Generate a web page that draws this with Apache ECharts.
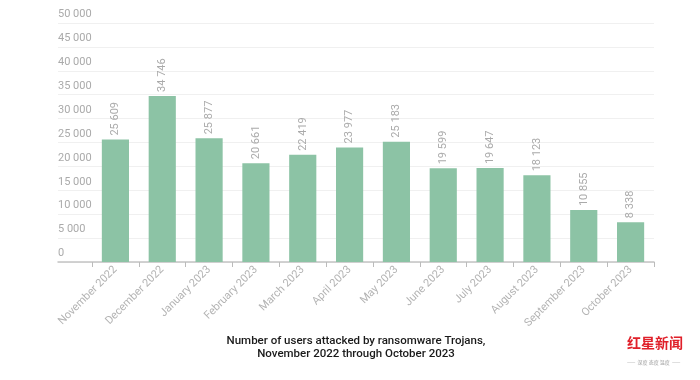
<!DOCTYPE html>
<html><head><meta charset="utf-8">
<script src="https://cdn.jsdelivr.net/npm/echarts@6/dist/echarts.min.js"></script>
<style>html,body{margin:0;padding:0;background:#fff}#c{width:700px;height:380px}</style>
</head><body><div id="c"></div>
<script>
const categories = ['November 2022','December 2022','January 2023','February 2023','March 2023','April 2023','May 2023','June 2023','July 2023','August 2023','September 2023','October 2023'];
const users = [25609, 34746, 25877, 20661, 22419, 23977, 25183, 19599, 19647, 18123, 10855, 8338];
const yTicks = [0, 5000, 10000, 15000, 20000, 25000, 30000, 35000, 40000, 45000, 50000];
const titleLines = ['Number of users attacked by ransomware Trojans,', 'November 2022 through October 2023'];

function fmt(v){ return String(v).replace(/\B(?=(\d{3})+(?!\d))/g, ' '); }

const chart = echarts.init(document.getElementById('c'));
const gray = '#aaaaaa';
chart.setOption({
  animation:false,
  grid:[
    {left:92, right:46, top:23, bottom:118},
    {left:58, right:46, top:23, bottom:118}
  ],
  xAxis:[
    {type:'category', gridIndex:0, data:categories,
     axisLine:{show:false}, axisTick:{show:true, length:5, lineStyle:{color:'#bbb'}},
     axisLabel:{rotate:45, color:'#b3b3b3', fontFamily:'Roboto', fontSize:11, margin:6, interval:0}},
    {type:'value', gridIndex:1, min:0, max:1, show:true,
     axisLine:{show:true, lineStyle:{color:'#c4c4c4', width:1.5}}, axisTick:{show:false}, axisLabel:{show:false}, splitLine:{show:false}}
  ],
  yAxis:[
    {type:'value', gridIndex:0, min:0, max:50000, interval:5000,
     axisLine:{show:false}, axisTick:{show:false}, splitLine:{show:false},
     axisLabel:{align:'left', margin:34, verticalAlign:'bottom', padding:[0,0,3,0], color:gray, fontFamily:'Roboto', fontSize:11,
       formatter:v=> yTicks.includes(v) ? fmt(v) : ''}},
    {type:'value', gridIndex:1, min:0, max:50000, interval:5000,
     axisLine:{show:false}, axisTick:{show:false}, axisLabel:{show:false},
     splitLine:{show:true, lineStyle:{color:'#f0f0f0'}}}
  ],
  series:[{
    type:'bar', xAxisIndex:0, yAxisIndex:0, data:users, barWidth:'58%',
    itemStyle:{color:'#8cc3a5'},
    label:{show:true, position:'top', rotate:90, align:'left', verticalAlign:'middle', distance:4,
      color:gray, fontFamily:'Roboto', fontSize:11, formatter:p=>fmt(p.value)}
  }],
  graphic:[
    {type:'text', x:356, y:335, style:{text:titleLines.join('\n'), textAlign:'center', fill:'#1a1a1a', font:'500 11.5px Roboto', lineHeight:13}},
    {type:'text', left:627, top:336, style:{text:'红星新闻', fill:'#e0202a', font:'bold 14px "Noto Sans CJK SC"'}},
    {type:'text', left:627, top:360, style:{text:'——  深度 态度 温度  ——', fill:'#999', font:'5px "Noto Sans CJK SC"'}}
  ]
});
</script></body></html>
